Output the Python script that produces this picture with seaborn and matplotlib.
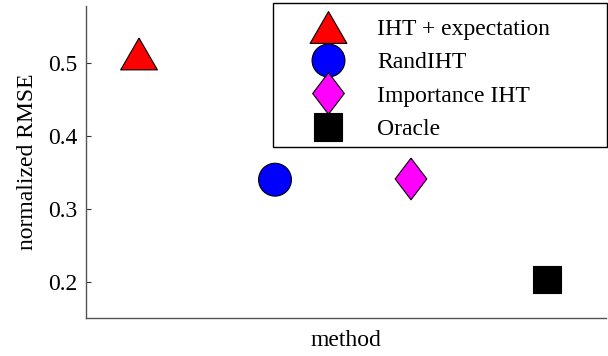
import matplotlib
matplotlib.use("Agg")
import matplotlib.pyplot as plt
from matplotlib.patches import Rectangle
import numpy as np
import pandas as pd
import seaborn as sns

# Methods and their normalized RMSE
methods = ["IHT + expectation", "RandIHT", "Importance IHT", "Oracle"]
rmse = [0.512, 0.340, 0.341, 0.203]
yticks = [0.2, 0.3, 0.4, 0.5]

df = pd.DataFrame({"method": methods, "rmse": rmse})

sns.set_style("white")
plt.rcParams["font.family"] = ["Liberation Serif", "DejaVu Serif"]
plt.rcParams["text.color"] = "black"
plt.rcParams["axes.labelcolor"] = "black"
plt.rcParams["ytick.color"] = "black"

# marker shapes
tri = [(0, 0.866), (-1, -0.866), (1, -0.866), (0, 0.866)]
dia = [(0, 1), (0.76, 0), (0, -1), (-0.76, 0), (0, 1)]
markers = {methods[0]: tri, methods[1]: "o", methods[2]: dia, methods[3]: "s"}
palette = {methods[0]: "#ff0000", methods[1]: "#0000ff",
           methods[2]: "#ff00ff", methods[3]: "#000000"}
sizes = {methods[0]: 700, methods[1]: 560, methods[2]: 900, methods[3]: 380}

W, H = 608, 356
fig = plt.figure(figsize=(W / 100, H / 100), dpi=100)
left, right, top, bottom = 86, 606, 6, 318
ax = fig.add_axes([left / W, 1 - bottom / H, (right - left) / W, (bottom - top) / H])

sns.scatterplot(data=df, x="method", y="rmse", hue="method", style="method",
                size="method", markers=markers, palette=palette, sizes=sizes,
                edgecolor="black", linewidth=0.8, ax=ax, zorder=3)

ax.set_xlim(-0.39, 3.434)
ax.set_ylim(0.1508, 0.5776)
ax.set_yticks(yticks)
ax.set_yticklabels([f"{v:.1f}" for v in yticks], fontsize=17)
ax.set_xticks([])
ax.tick_params(axis="y", direction="in", length=3.6, width=0.8, color="#333333",
               pad=6, left=True)
for side in ("top", "right"):
    ax.spines[side].set_visible(False)
for side in ("left", "bottom"):
    ax.spines[side].set_color("#555555")
    ax.spines[side].set_linewidth(1.0)

ax.set_xlabel("method", fontsize=17, labelpad=9)
ax.set_ylabel("normalized RMSE", fontsize=17, labelpad=7.5)

# legend box: white panel with a black border behind the entries
lx0, ly0, lx1, ly1 = 273, 3, 607, 147
fig.add_artist(Rectangle((lx0 / W, 1 - ly1 / H), (lx1 - lx0) / W, (ly1 - ly0) / H,
                         transform=fig.transFigure, facecolor="white",
                         edgecolor="black", linewidth=1.0, zorder=4))

sns.move_legend(ax, "upper left",
                bbox_to_anchor=(lx0 / W, 1 - ly0 / H, (lx1 - lx0) / W, 0.01),
                bbox_transform=fig.transFigure, mode="expand",
                title=None, fontsize=17, frameon=False, borderpad=0.8,
                labelspacing=0.5, handlelength=3.1, handletextpad=0.5,
                borderaxespad=0)
leg = ax.get_legend()
leg.set_zorder(5)
for h, t in zip(leg.legend_handles, leg.get_texts()):
    s = sizes[t.get_text()]
    if hasattr(h, "set_markersize"):
        h.set_markersize(np.sqrt(s))
        h.set_markeredgewidth(0.8)
        h.set_markeredgecolor("black")
    else:
        h.set_sizes([s])
leg.remove()
fig.add_artist(leg)

fig.savefig("out.png", dpi=100)
